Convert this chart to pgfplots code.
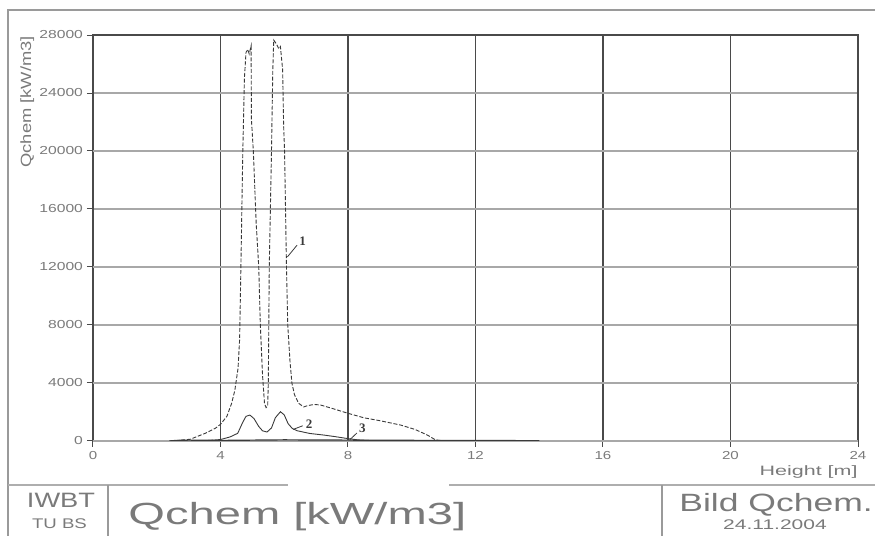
\documentclass[border=0pt]{standalone}
\usepackage{fontspec}
\setmainfont{Liberation Sans}
\newfontfamily\serifnum{Liberation Serif}
\usepackage{graphicx}
\usepackage{pgfplots}
\pgfplotsset{compat=1.18}

\definecolor{tx}{HTML}{7A7A7A}
\definecolor{gdark}{HTML}{4A4A4A}
\definecolor{glight}{HTML}{A8A8A8}
\definecolor{crv}{HTML}{3A3A3A}
\definecolor{frm}{HTML}{9A9A9A}

\begin{document}
\begin{tikzpicture}
\useasboundingbox (0,0) rectangle (437.5pt,268pt);

% outer drawing frame and title block
\draw[frm, line width=0.8pt] (4pt,0) -- (4pt,263pt) -- (437.5pt,263pt);
\draw[frm!80, line width=0.9pt] (4pt,25.5pt) -- (144pt,25.5pt);
\draw[frm!80, line width=0.9pt] (224.5pt,25.5pt) -- (437.5pt,25.5pt);
\draw[frm, line width=0.7pt] (54pt,0) -- (54pt,25.5pt);
\draw[frm, line width=0.7pt] (331pt,0) -- (331pt,25.5pt);

\begin{axis}[
    at={(46.5pt,47.5pt)}, anchor=south west,
    scale only axis, width=382.5pt, height=203pt,
    xmin=0, xmax=24, ymin=0, ymax=28000,
    xtick={0,4,...,24}, ytick={0,4000,...,28000},
    scaled y ticks=false,
    axis line style={gdark, line width=0.6pt},
    tick style={gdark, line width=0.5pt},
    tick align=outside, major tick length=3pt,
    xtick pos=bottom, ytick pos=left,
    grid=major,
    x grid style={gdark, line width=0.55pt},
    y grid style={glight, line width=0.6pt},
    extra y ticks={0,4000,12000,20000},
    extra y tick labels={},
    extra y tick style={grid style={gdark, line width=0.6pt}, major tick length=0pt},
    tick label style={text=tx, /pgf/number format/1000 sep={},
        /pgf/number format/assume math mode=true},
    yticklabel style={font=\fontsize{5.8}{6}\selectfont, xshift=1.5pt},
    xticklabel style={font=\fontsize{5.8}{6}\selectfont, yshift=1.5pt},
    yticklabel={\scalebox{1.35}[1]{\pgfmathprintnumber{\tick}}},
    xticklabel={\scalebox{1.3}[1]{\pgfmathprintnumber{\tick}}},
]
% curve 1 (dashed)
\addplot[crv, line width=0.45pt, dash pattern=on 2pt off 0.9pt] coordinates {
(2.4,0) (2.6,30) (3.05,120) (3.52,530) (3.84,880) (4.0,1150) (4.2,1700)
(4.35,2600) (4.45,3500) (4.55,5000) (4.6,7000) (4.64,12000) (4.70,20000)
(4.75,25000) (4.80,26800) (4.86,27000) (4.90,26700) (4.96,27250) (4.97,22200)
(5.03,20000) (5.12,15000) (5.20,12000) (5.25,8000) (5.32,4500) (5.38,2600)
(5.43,2300) (5.48,2400) (5.50,4000) (5.53,12000) (5.60,20000) (5.64,25500)
(5.67,27650) (5.75,27400) (5.83,27050) (5.88,27200) (5.95,25600) (5.98,21800)
(6.01,20000) (6.07,12000) (6.11,8000) (6.18,5500) (6.24,4000) (6.32,3200)
(6.45,2600) (6.61,2350) (6.75,2450) (6.95,2520) (7.14,2480) (7.5,2250)
(8.0,1910) (8.5,1600) (9.0,1400) (9.65,1100) (10.1,800) (10.49,410)
(10.75,70) (11,20) (14,0)
};
% curve 2 (solid)
\addplot[crv, line width=0.45pt] coordinates {
(3.5,20) (4.0,100) (4.3,280) (4.54,530) (4.7,1300) (4.8,1700) (4.92,1790)
(5.05,1550) (5.2,1000) (5.32,700) (5.46,620) (5.6,900) (5.72,1600)
(5.88,2020) (6.0,1800) (6.12,1200) (6.25,870) (6.4,710) (6.8,520)
(7.24,410) (7.6,300) (7.92,190) (8.3,80) (8.8,20) (9.2,0)
};
% curve 3 (near zero)
\addplot[crv, line width=0.6pt] coordinates {
(2.4,0) (2.6,40) (3.0,60) (3.5,50) (4.0,40) (5.0,60) (6.0,80) (7.0,70)
(8.0,60) (9.0,50) (10.0,45) (11.0,40) (12.0,35) (13.0,30) (14.0,20)
};
% curve labels
\draw[crv, line width=0.4pt] (axis cs:6.10,12700) -- (axis cs:6.40,13500);
\node[crv, font=\serifnum\bfseries\fontsize{6.5}{7}\selectfont] at (axis cs:6.58,13800) {1};
\draw[crv, line width=0.4pt] (axis cs:6.28,800) -- (axis cs:6.58,1050);
\node[crv, font=\serifnum\bfseries\fontsize{6.5}{7}\selectfont] at (axis cs:6.78,1150) {2};
\draw[crv, line width=0.4pt] (axis cs:8.05,80) -- (axis cs:8.28,550);
\node[crv, font=\serifnum\bfseries\fontsize{6.5}{7}\selectfont] at (axis cs:8.45,880) {3};
\end{axis}

% axis titles
\node[tx, rotate=90, anchor=base west, inner sep=0pt, font=\fontsize{7.4}{8}\selectfont]
  at (15.5pt,184pt) {\scalebox{1.24}[1]{Qchem [kW/m3]}};
\node[tx, anchor=base east, inner sep=0pt, font=\fontsize{6.8}{8}\selectfont]
  at (429pt,30pt) {\scalebox{1.58}[1]{Height [m]}};

% title block texts
\node[tx, anchor=base, inner sep=0pt, font=\fontsize{10.4}{11}\selectfont]
  at (30.5pt,14pt) {\scalebox{1.31}[1]{IWBT}};
\node[tx, anchor=base, inner sep=0pt, font=\fontsize{7}{8}\selectfont]
  at (29.75pt,3.5pt) {\scalebox{1.33}[1]{TU BS}};
\node[tx, anchor=base west, inner sep=0pt, font=\fontsize{15.3}{16}\selectfont]
  at (64pt,5.5pt) {\scalebox{1.54}[1]{Qchem [kW/m3]}};
\node[tx, anchor=base west, inner sep=0pt, font=\fontsize{12.5}{13}\selectfont]
  at (339.5pt,12pt) {\scalebox{1.42}[1]{Bild Qchem.}};
\node[tx, anchor=base, inner sep=0pt, font=\fontsize{7}{8}\selectfont]
  at (387.5pt,3pt) {\scalebox{1.5}[1]{24.11.2004}};
\end{tikzpicture}
\end{document}
